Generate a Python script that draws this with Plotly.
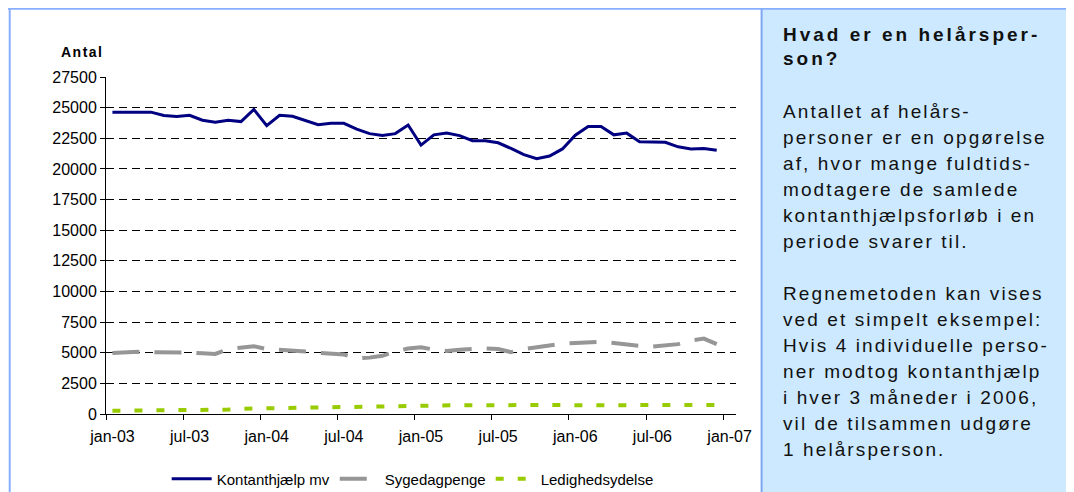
import plotly.graph_objects as go

# ---------------- data ----------------
mon = ["jan", "feb", "mar", "apr", "maj", "jun", "jul", "aug", "sep", "okt", "nov", "dec"]
months = [f"{m}-{y:02d}" for y in range(3, 7) for m in mon]          # jan-03 .. dec-06
categories = months + ["jan-07"]

kontant = [24630, 24620, 24620, 24630, 24360, 24280, 24380, 23970, 23800, 23970, 23860, 24860,
           23530, 24380, 24300, 23970, 23610, 23720, 23720, 23250, 22880, 22720, 22880, 23580,
           21940, 22780, 22920, 22720, 22300, 22300, 22130, 21670, 21170, 20830, 21050, 21630,
           22750, 23470, 23470, 22780, 22920, 22220, 22170, 22170, 21800, 21630, 21670, 21520]

syge = [4980, 5050, 5070, 5050, 5050, 5050, 5000, 4950, 4900, 5300, 5450, 5530,
        5300, 5250, 5200, 5100, 5000, 4950, 4850, 4550, 4600, 4750, 5100, 5350,
        5450, 5250, 5150, 5250, 5300, 5350, 5300, 5050, 5300, 5450, 5550, 5750,
        5800, 5850, 5900, 5800, 5650, 5550, 5500, 5600, 5700, 6000, 6150, 5700]

ledig = [260, 270, 270, 280, 290, 310, 320, 330, 340, 360, 430, 450,
         460, 480, 520, 530, 540, 550, 560, 580, 590, 600, 620, 720,
         730, 730, 730, 720, 720, 730, 730, 730, 730, 730, 730, 730,
         720, 720, 720, 730, 730, 730, 730, 730, 730, 730, 730, 730]

tick_labels = ["jan-03", "jul-03", "jan-04", "jul-04", "jan-05", "jul-05", "jan-06", "jul-06", "jan-07"]

title_lines = ["Hvad er en helårsper-", "son?"]
body_lines = ["Antallet af helårs-", "personer er en opgørelse", "af, hvor mange fuldtids-",
              "modtagere de samlede", "kontanthjælpsforløb i en", "periode svarer til.",
              "", "Regnemetoden kan vises", "ved et simpelt eksempel:", "Hvis 4 individuelle perso-",
              "ner modtog kontanthjælp", "i hver 3 måneder i 2006,", "vil de tilsammen udgøre",
              "1 helårsperson."]

# ---------------- layout geometry ----------------
# The page body has an 8px margin, so the figure starts at (8, 8) of the window.
OFF = 8
WIN_W, WIN_H = 1074, 492
W, H = WIN_W - OFF, WIN_H - OFF
# plot area in window pixels
L, R, T, B = 106.3, 736.4, 77.3, 414.0


def px(x):
    return (x - L) / (R - L)


def py(y):
    return (B - y) / (B - T)


FONT = "Liberation Sans, Arial, sans-serif"
x = list(range(len(months)))
tickvals = [categories.index(t) for t in tick_labels]

fig = go.Figure()
fig.add_trace(go.Scatter(x=x, y=kontant, mode="lines", name="Kontanthjælp mv",
                         line=dict(color="#000080", width=3)))
fig.add_trace(go.Scatter(x=x, y=syge, mode="lines", name="Sygedagpenge",
                         line=dict(color="#969696", width=4, dash="27px,15px")))
fig.add_trace(go.Scatter(x=x, y=ledig, mode="lines", name="Ledighedsydelse",
                         line=dict(color="#99CC00", width=4, dash="8px,14px")))

shapes = [
    dict(type="rect", xref="paper", yref="paper", x0=px(762), x1=px(1090), y0=py(8), y1=py(510),
         fillcolor="#CCE9FF", line=dict(width=0), layer="below"),
    dict(type="line", xref="paper", yref="paper", x0=px(762), x1=px(762), y0=py(8), y1=py(510),
         line=dict(color="#7EA6F2", width=2)),
    dict(type="line", xref="paper", yref="paper", x0=px(8), x1=px(1090), y0=py(9), y1=py(9),
         line=dict(color="#88AEFF", width=2)),
    dict(type="line", xref="paper", yref="paper", x0=px(10), x1=px(10), y0=py(8), y1=py(510),
         line=dict(color="#88AEFF", width=2)),
]

annotations = [
    dict(xref="paper", yref="paper", x=px(83), y=py(52.5), xanchor="center", yanchor="middle",
         text='<b><span style="letter-spacing:1.5px">Antal</span></b>', showarrow=False,
         font=dict(family=FONT, size=14, color="black")),
]

for i, t in enumerate(title_lines):
    base = 41 + 24 * i
    annotations.append(dict(xref="paper", yref="paper", x=px(781), y=py(base - 6.5),
                            xanchor="left", yanchor="middle", showarrow=False,
                            text=f'<b><span style="letter-spacing:3px">{t}</span></b>',
                            font=dict(family=FONT, size=19, color="#111111")))

for i, t in enumerate(body_lines):
    if not t:
        continue
    base = 118 + 26 * i
    annotations.append(dict(xref="paper", yref="paper", x=px(781), y=py(base - 6.5),
                            xanchor="left", yanchor="middle", showarrow=False,
                            text=f'<span style="letter-spacing:2.1px">{t}</span>',
                            font=dict(family=FONT, size=19, color="#111111")))

fig.update_layout(
    width=W, height=H,
    margin=dict(l=L - OFF, r=WIN_W - R, t=T - OFF, b=WIN_H - B, autoexpand=False),
    paper_bgcolor="white", plot_bgcolor="white",
    font=dict(family=FONT, color="black"),
    showlegend=True,
    legend=dict(orientation="h", x=px(167), xanchor="left", y=py(479), yanchor="middle",
                font=dict(family=FONT, size=15, color="black"), itemwidth=40,
                bgcolor="rgba(0,0,0,0)", traceorder="normal"),
    xaxis=dict(range=[-0.5, 48.5], tickmode="array", tickvals=tickvals, ticktext=tick_labels,
               ticks="", showline=True, linecolor="black", linewidth=1, showgrid=False,
               zeroline=False, tickfont=dict(family=FONT, size=16, color="black"),
               ticklabelstandoff=8,
               minor=dict(tickmode="array", tickvals=[v - 0.5 for v in tickvals],
                          ticks="outside", ticklen=5, tickcolor="black", tickwidth=1, showgrid=False)),
    yaxis=dict(range=[0, 27500], tick0=0, dtick=2500, tickformat="d", ticks="outside", ticklen=5,
               tickcolor="black", showline=True, linecolor="black", linewidth=1,
               showgrid=True, gridcolor="black", gridwidth=1, griddash="8px,5px",
               zeroline=False, tickfont=dict(family=FONT, size=16, color="black")),
    shapes=shapes,
    annotations=annotations,
)

fig.write_html("out.html")
